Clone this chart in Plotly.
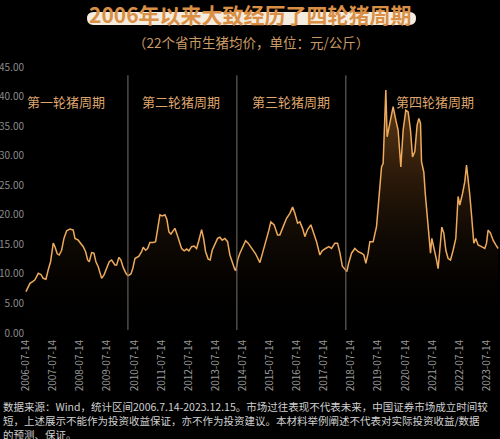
import plotly.graph_objects as go
from datetime import date

# ---------------- data ----------------
years = [
    2006.535, 2006.683, 2006.782, 2006.867, 2006.989, 2007.088, 2007.173, 2007.273, 2007.358, 2007.446,
    2007.542, 2007.605, 2007.690, 2007.763, 2007.852, 2007.937, 2008.036, 2008.158, 2008.280, 2008.343,
    2008.464, 2008.564, 2008.649, 2008.737, 2008.811, 2008.870, 2008.959, 2009.043, 2009.117, 2009.202,
    2009.327, 2009.412, 2009.512, 2009.608, 2009.696, 2009.818, 2009.881, 2009.966, 2010.039, 2010.124,
    2010.224, 2010.298, 2010.408, 2010.482, 2010.556, 2010.703, 2010.803, 2010.862, 2010.950, 2011.024,
    2011.109, 2011.231, 2011.319, 2011.393, 2011.478, 2011.563, 2011.662, 2011.736, 2011.810, 2011.884,
    2011.969, 2012.031, 2012.116, 2012.190, 2012.278, 2012.374, 2012.463, 2012.548, 2012.647, 2012.743,
    2012.832, 2012.917, 2013.016, 2013.090, 2013.164, 2013.260, 2013.333, 2013.407, 2013.507, 2013.606,
    2013.691, 2013.776, 2013.876, 2013.975, 2014.060, 2014.145, 2014.244, 2014.281, 2014.355, 2014.429,
    2014.514, 2014.639, 2014.735, 2014.860, 2015.008, 2015.167, 2015.288, 2015.414, 2015.499, 2015.572,
    2015.694, 2015.820, 2015.904, 2016.026, 2016.151, 2016.273, 2016.373, 2016.458, 2016.557, 2016.642,
    2016.742, 2016.827, 2016.926, 2017.048, 2017.133, 2017.258, 2017.380, 2017.465, 2017.590, 2017.712,
    2017.811, 2017.933, 2018.033, 2018.118, 2018.210, 2018.302, 2018.376, 2018.442, 2018.549, 2018.671,
    2018.793, 2018.918, 2019.003, 2019.077, 2019.161, 2019.224, 2019.346, 2019.471, 2019.567, 2019.656,
    2019.715, 2019.777, 2019.814, 2019.862, 2019.936, 2020.025, 2020.084, 2020.183, 2020.268, 2020.368,
    2020.452, 2020.552, 2020.637, 2020.725, 2020.799, 2020.884, 2020.969, 2021.032, 2021.094, 2021.131,
    2021.216, 2021.271, 2021.338, 2021.412, 2021.463, 2021.511, 2021.585, 2021.685, 2021.744, 2021.806,
    2021.880, 2021.954, 2022.028, 2022.112, 2022.201, 2022.297, 2022.396, 2022.481, 2022.544, 2022.644,
    2022.728, 2022.791, 2022.850, 2022.913, 2022.976, 2023.012, 2023.060, 2023.134, 2023.219, 2023.344,
    2023.466, 2023.529, 2023.588, 2023.676, 2023.772, 2023.872, 2023.957,
]
prices = [
    7.0, 8.4, 8.7, 9.0, 10.1, 9.9, 9.25, 9.1, 10.7, 12.1,
    15.2, 14.6, 13.4, 13.2, 14.0, 16.0, 17.3, 17.6, 17.4, 16.0,
    15.7, 15.2, 14.6, 13.75, 12.35, 12.06, 13.6, 13.5, 12.06, 11.2,
    9.25, 9.8, 10.9, 12.06, 12.35, 11.5, 11.5, 12.8, 12.35, 11.1,
    10.1, 9.7, 10.0, 11.0, 12.6, 13.0, 13.75, 14.5, 14.0, 14.3,
    15.3, 15.3, 15.45, 17.4, 20.0, 19.8, 20.0, 19.2, 17.1, 16.75,
    17.3, 17.7, 16.6, 15.45, 14.3, 13.9, 14.2, 13.9, 14.6, 14.7,
    14.3, 15.7, 17.5, 16.0, 13.75, 12.5, 12.35, 14.0, 14.9, 16.0,
    16.2, 15.7, 16.0, 15.45, 13.2, 12.06, 10.7, 10.6, 12.5, 13.5,
    14.3, 15.6, 15.2, 14.3, 13.4, 11.9, 13.75, 15.7, 17.4, 18.8,
    18.3, 16.6, 16.6, 18.0, 19.4, 20.25, 21.3, 20.25, 18.6, 18.8,
    17.7, 16.3, 17.5, 18.3, 17.1, 15.45, 13.2, 13.9, 14.3, 14.6,
    14.3, 15.2, 15.2, 13.6, 11.3, 10.8, 10.4, 11.8, 13.5, 14.3,
    13.75, 13.5, 13.2, 11.8, 13.5, 15.45, 15.45, 18.0, 23.1, 28.1,
    28.7, 37.7, 41.1, 33.2, 34.9, 37.2, 38.3, 36.0, 34.3, 28.1,
    34.3, 37.7, 37.4, 34.3, 29.8, 30.7, 35.2, 36.3, 35.5, 29.0,
    27.2, 23.5, 19.7, 16.9, 13.5, 16.0, 14.6, 12.35, 10.9, 14.0,
    17.9, 16.9, 14.0, 12.6, 12.35, 14.0, 16.0, 23.1, 21.65, 23.6,
    25.6, 28.4, 26.2, 23.35, 20.0, 17.4, 15.2, 16.0, 14.9, 14.6,
    14.3, 15.2, 17.4, 16.9, 15.7, 14.9, 14.3,
]
tick_labels = ["%d-07-14" % y for y in range(2006, 2024)]
y_ticks = [0, 5, 10, 15, 20, 25, 30, 35, 40, 45]
cycle_names = ["第一轮猪周期", "第二轮猪周期", "第三轮猪周期", "第四轮猪周期"]
cycle_label_x = [2008.01, 2012.25, 2016.31, 2021.62]
cycle_bounds = [2010.298, 2014.318, 2018.339]

title = "2006年以来大致经历了四轮猪周期"
subtitle = "（22个省市生猪均价，单位：元/公斤）"
footnote_lines = [
    "数据来源：Wind，统计区间2006.7.14-2023.12.15。市场过往表现不代表未来，中国证券市场成立时间较",
    "短，上述展示不能作为投资收益保证，亦不作为投资建议。本材料举例阐述不代表对实际投资收益/数据",
    "的预测、保证。",
]


def to_year(s):
    d = date.fromisoformat(s)
    start = date(d.year, 1, 1)
    return d.year + (d - start).days / 365.25


tick_pos = [to_year(s) for s in tick_labels]

# ---------------- layout geometry ----------------
W, H = 500, 439
ML, MR, MT, MB = 25, 1, 67, 106
X_RANGE = [2006.50, 2023.99]
FONT = "Noto Sans CJK SC"


def px_x(p):
    return (p - ML) / (W - ML - MR)


def px_y(p):
    return (H - MB - p) / (H - MT - MB)


fig = go.Figure()
fig.add_trace(go.Scatter(
    x=years, y=prices, mode="lines",
    line=dict(color="#eeaa5c", width=1.5),
    fill="tozeroy",
    fillgradient=dict(type="vertical", start=0, stop=41,
                      colorscale=[[0, "rgba(0,0,0,0)"], [1, "rgba(175,105,40,0.6)"]]),
    hoverinfo="x+y", showlegend=False,
))

shapes = []
for b in cycle_bounds:
    shapes.append(dict(type="line", xref="x", yref="y", x0=b, x1=b, y0=0.5, y1=43.6,
                       line=dict(color="#7a7068", width=1), layer="above"))

# highlighter pill behind the title
x0, x1, y0, y1, r = 87, 416, 12, 25, 6.5
path = (f"M {px_x(x0 + r)},{px_y(y0)} L {px_x(x1 - r)},{px_y(y0)} "
        f"Q {px_x(x1)},{px_y(y0)} {px_x(x1)},{px_y(y0 + r)} "
        f"Q {px_x(x1)},{px_y(y1)} {px_x(x1 - r)},{px_y(y1)} "
        f"L {px_x(x0 + r)},{px_y(y1)} "
        f"Q {px_x(x0)},{px_y(y1)} {px_x(x0)},{px_y(y1 - r)} "
        f"Q {px_x(x0)},{px_y(y0)} {px_x(x0 + r)},{px_y(y0)} Z")
shapes.append(dict(type="path", xref="paper", yref="paper", path=path,
                   fillcolor="#f4ecdf", line=dict(width=0), layer="below"))

annotations = [
    dict(text="<b>" + title + "</b>", xref="paper", yref="paper", x=px_x(250.5), y=px_y(14),
         xanchor="center", yanchor="middle", showarrow=False,
         font=dict(family=FONT, size=21, color="#d98f45")),
    dict(text=subtitle, xref="paper", yref="paper", x=px_x(251), y=px_y(42),
         xanchor="center", yanchor="middle", showarrow=False,
         font=dict(family=FONT, size=13.5, color="#c99a64")),
]
for i, line in enumerate(footnote_lines):
    annotations.append(dict(text=line, xref="paper", yref="paper", x=px_x(1), y=px_y(406 + 14 * i),
                            xanchor="left", yanchor="middle", align="left", showarrow=False,
                            font=dict(family=FONT, size=10.5, color="#d0d0d0")))
for name, cx in zip(cycle_names, cycle_label_x):
    annotations.append(dict(text=name, x=cx, y=39.1, xref="x", yref="y",
                            xanchor="center", yanchor="middle", showarrow=False,
                            font=dict(family=FONT, size=13, color="#dda56c")))

fig.update_layout(
    width=W, height=H,
    margin=dict(l=ML, r=MR, t=MT, b=MB, pad=0, autoexpand=False),
    paper_bgcolor="#000000", plot_bgcolor="#000000",
    font=dict(family=FONT, color="#8c8c8c"),
    shapes=shapes, annotations=annotations,
    xaxis=dict(range=X_RANGE, tickvals=tick_pos, ticktext=tick_labels, automargin=False,
               tickangle=-90, showgrid=False, zeroline=False, showline=False, ticks="",
               ticklabelstandoff=4,
               tickfont=dict(family=FONT, size=10, color="#9a9a9a")),
    yaxis=dict(range=[0, 45], tickvals=y_ticks, tickformat=".2f", automargin=False,
               showgrid=False, zeroline=False, showline=False, ticks="",
               tickfont=dict(family=FONT, size=10, color="#8a8a8a")),
)

fig.write_html("out.html", config={"displayModeBar": False},
               post_script="document.body.style.margin='0px';document.body.style.background='#000';")
